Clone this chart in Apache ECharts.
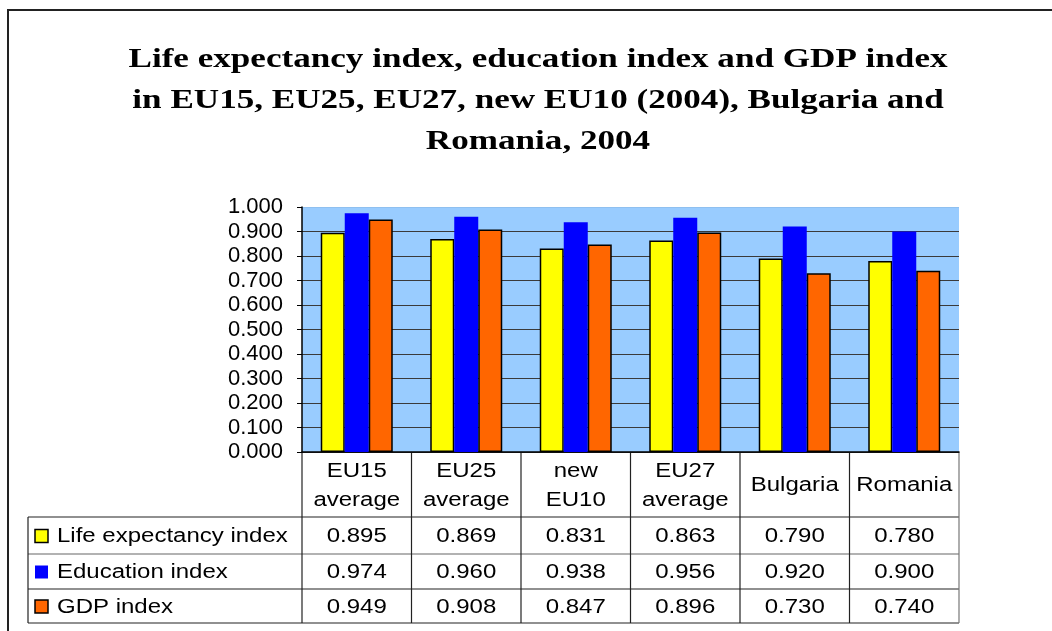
<!DOCTYPE html>
<html>
<head>
<meta charset="utf-8">
<script src="https://cdn.jsdelivr.net/npm/echarts@6/dist/echarts.min.js"></script>
<style>html,body{margin:0;padding:0;background:#fff;}#c{width:1052px;height:631px;}</style>
</head>
<body>
<div id="c"></div>
<script>
var titleLines = ['Life expectancy index, education index and GDP index', 'in EU15, EU25, EU27, new EU10 (2004), Bulgaria and', 'Romania, 2004'];
var categories = ['EU15\naverage', 'EU25\naverage', 'new\nEU10', 'EU27\naverage', 'Bulgaria', 'Romania'];
var seriesNames = ['Life expectancy index', 'Education index', 'GDP index'];
var lifeExpectancy = [0.895, 0.869, 0.831, 0.863, 0.790, 0.780];
var education = [0.974, 0.960, 0.938, 0.956, 0.920, 0.900];
var gdp = [0.949, 0.908, 0.847, 0.896, 0.730, 0.740];
var yTickLabels = ['0.000','0.100','0.200','0.300','0.400','0.500','0.600','0.700','0.800','0.900','1.000'];

var colors = ['#FFFF00', '#0000FF', '#FF6600'];
var borders = ['#000', '#0000FF', '#000'];
var seriesData = [lifeExpectancy, education, gdp];

var GL = 302, GT = 207, GW = 657, GH = 245;
var FONT = 'Liberation Sans, Arial, sans-serif';
var FS = 20, SX = 1.2;

var chart = echarts.init(document.getElementById('c'));

var splitColors = [];
for (var i = 0; i < yTickLabels.length; i++) splitColors.push(i === yTickLabels.length - 1 ? '#8fc0f0' : '#3a3a3a');

var series = seriesNames.map(function (n, i) {
  return {
    name: n, type: 'bar', data: seriesData[i], barWidth: 24, barGap: '0%',
    itemStyle: { color: colors[i], borderColor: borders[i], borderWidth: i === 1 ? 0 : 1.5 },
    silent: true
  };
});

var g = [];
var rowY = [GH + GT, 517, 554, 589, 623];
var colW = GW / categories.length;
var TL = 28;
function line(x1, y1, x2, y2, c) {
  g.push({ type: 'line', shape: { x1: x1, y1: y1, x2: x2, y2: y2 }, style: { stroke: c || '#222', lineWidth: 1.2 }, silent: true });
}
function txt(x, y, t, align, extra) {
  var st = { text: t, font: FS + 'px ' + FONT, fill: '#000', align: align, verticalAlign: 'middle' };
  if (extra) for (var k in extra) st[k] = extra[k];
  g.push({ type: 'text', x: x, y: y, scaleX: SX, style: st, silent: true });
}
// outer border
g.push({ type: 'polyline', shape: { points: [[8, 631], [8, 10], [1052, 10]] }, style: { stroke: '#222', fill: null, lineWidth: 2 }, silent: true });
// title
titleLines.forEach(function (t, i) {
  g.push({ type: 'text', x: 538, y: 60 + i * 41, scaleX: 1.3,
    style: { text: t, font: 'bold 27px Liberation Serif, Times New Roman, serif', fill: '#000', align: 'center', verticalAlign: 'middle' }, silent: true });
});
// table lines
for (var r = 1; r < rowY.length; r++) line(TL, rowY[r], GL + GW, rowY[r], r === 2 ? '#666' : '#222');
for (var c = 0; c <= categories.length; c++) {
  var x = GL + c * colW;
  line(x, rowY[0], x, rowY[4], c === categories.length ? '#777' : '#222');
}
line(TL, rowY[1], TL, rowY[4]);
// header
categories.forEach(function (cat, i) {
  txt(GL + (i + 0.5) * colW, (rowY[0] + rowY[1]) / 2 + 1, cat, 'center', { lineHeight: 29 });
});
// data rows
seriesNames.forEach(function (n, s) {
  var yc = (rowY[s + 1] + rowY[s + 2]) / 2;
  g.push({ type: 'rect', shape: { x: 35, y: yc - 6, width: 13, height: 13 },
    style: { fill: colors[s], stroke: s === 1 ? colors[s] : '#000', lineWidth: s === 1 ? 0 : 1.5 }, silent: true });
  txt(57, yc + 1, n, 'left');
  seriesData[s].forEach(function (v, i) {
    txt(GL + (i + 0.5) * colW, yc + 1, v.toFixed(3), 'center');
  });
});

chart.setOption({
  animation: false,
  grid: { left: GL, top: GT, width: GW, height: GH, show: true, backgroundColor: '#99CCFF', borderWidth: 0 },
  xAxis: {
    type: 'category', data: categories,
    axisLine: { show: true, lineStyle: { color: '#000', width: 1.5 } },
    axisTick: { show: false }, axisLabel: { show: false }, splitLine: { show: false }
  },
  yAxis: {
    type: 'value', min: 0, max: 1, interval: 0.1,
    axisLine: { show: true, lineStyle: { color: '#000', width: 1.5 } },
    axisTick: { show: true, length: 5, lineStyle: { color: '#000' } },
    axisLabel: { margin: 19, fontFamily: FONT, fontSize: 22, color: '#000',
      formatter: function (v) { return yTickLabels[Math.round(v * 10)]; } },
    splitLine: { show: true, lineStyle: { color: splitColors, width: 1.2 } }
  },
  series: series,
  graphic: g
});
</script>
</body>
</html>
